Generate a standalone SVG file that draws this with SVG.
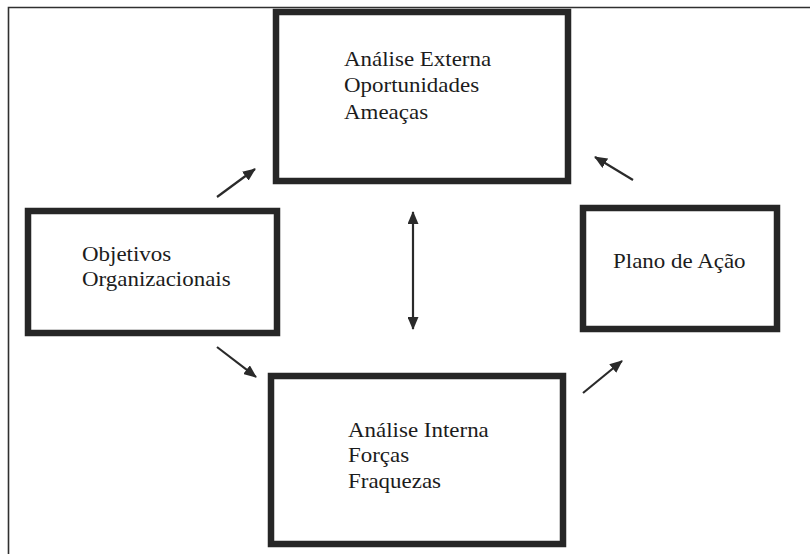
<svg xmlns="http://www.w3.org/2000/svg" width="810" height="554" viewBox="0 0 810 554">
  <style>
    .box { fill: #ffffff; stroke: #262626; stroke-width: 6.5; }
    .label { font-family: "Liberation Serif", "Times New Roman", serif; font-size: 20.5px; fill: #1c1c1c; }
    .conn { stroke: #2a2a2a; stroke-width: 2.2; fill: none; marker-end: url(#head); }
    .frame { stroke: #303030; stroke-width: 1.6; fill: none; }
  </style>
  <defs>
    <marker id="head" viewBox="0 0 13 11" refX="12" refY="5.5" markerWidth="13" markerHeight="11" markerUnits="userSpaceOnUse" orient="auto-start-reverse">
      <path d="M0,0 L13,5.5 L0,11 Z" fill="#2a2a2a"/>
    </marker>
  </defs>

  <rect width="810" height="554" fill="#ffffff"/>

  <!-- page frame (top and left edges) -->
  <path class="frame" d="M8.5,554 L8.5,7.5 L810,7.5"/>

  <g id="analise-externa">
    <rect class="box" x="276" y="12" width="292" height="169"/>
    <g class="label" transform="translate(344 0) scale(1.12 1)">
      <text x="0" y="66">Análise Externa</text>
      <text x="0" y="92.5">Oportunidades</text>
      <text x="0" y="119">Ameaças</text>
    </g>
  </g>

  <g id="objetivos">
    <rect class="box" x="28" y="211" width="249" height="122"/>
    <g class="label" transform="translate(82 0) scale(1.12 1)">
      <text x="0" y="261">Objetivos</text>
      <text x="0" y="286">Organizacionais</text>
    </g>
  </g>

  <g id="plano-acao">
    <rect class="box" x="583" y="208" width="194" height="121"/>
    <g class="label" transform="translate(613 0) scale(1.12 1)">
      <text x="0" y="268">Plano de Ação</text>
    </g>
  </g>

  <g id="analise-interna">
    <rect class="box" x="271" y="376" width="292" height="168"/>
    <g class="label" transform="translate(348 0) scale(1.12 1)">
      <text x="0" y="437">Análise Interna</text>
      <text x="0" y="462">Forças</text>
      <text x="0" y="488">Fraquezas</text>
    </g>
  </g>

  <g id="connectors">
    <line class="conn" x1="217" y1="197" x2="255" y2="169"/>
    <line class="conn" x1="217" y1="347" x2="256" y2="377"/>
    <line class="conn" x1="583" y1="393" x2="622" y2="361"/>
    <line class="conn" x1="633" y1="180" x2="595" y2="157"/>
    <line class="conn" x1="413" y1="212" x2="413" y2="329" marker-start="url(#head)"/>
  </g>
</svg>
